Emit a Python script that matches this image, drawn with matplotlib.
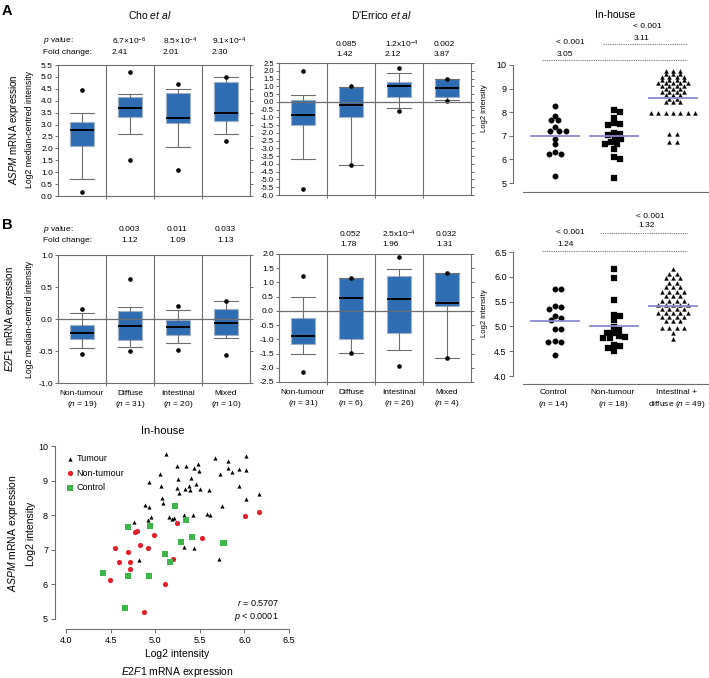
import numpy as np
import matplotlib
matplotlib.use('Agg')
import matplotlib.pyplot as plt

plt.rcParams['font.family'] = ['Liberation Sans', 'DejaVu Sans']
plt.rcParams['mathtext.fontset'] = 'custom'
plt.rcParams['mathtext.rm'] = 'Liberation Sans'
plt.rcParams['mathtext.it'] = 'Liberation Sans:italic'
plt.rcParams['mathtext.bf'] = 'Liberation Sans:bold'

# ---------------- data ----------------
categories = ['Non-tumour', 'Diffuse', 'Intestinal', 'Mixed']
cho_n = [19, 31, 20, 10]
derrico_n = [31, 6, 26, 4]

# Cho ASPM box stats
cho_aspm_lo = [0.70, 2.61, 2.05, 2.61]
cho_aspm_q1 = [2.09, 3.32, 3.07, 3.16]
cho_aspm_med = [2.76, 3.70, 3.28, 3.49]
cho_aspm_q3 = [3.10, 4.14, 4.32, 4.78]
cho_aspm_hi = [3.49, 4.29, 4.50, 5.01]
cho_aspm_min = [0.18, 1.53, 1.08, 2.33]
cho_aspm_max = [4.47, 5.20, 4.71, 5.01]

# D'Errico ASPM
der_aspm_lo = [-3.69, -4.06, -0.37, 0.13]
der_aspm_q1 = [-1.51, -0.95, 0.28, 0.28]
der_aspm_med = [-0.84, -0.18, 1.03, 0.86]
der_aspm_q3 = [0.13, 0.95, 1.29, 1.44]
der_aspm_hi = [0.45, 0.95, 1.83, 1.44]
der_aspm_min = [-5.61, -4.06, -0.59, 0.08]
der_aspm_max = [2.00, 1.00, 2.18, 1.44]

# Cho E2F1
cho_e2f1_lo = [-0.45, -0.43, -0.38, -0.29]
cho_e2f1_q1 = [-0.31, -0.33, -0.25, -0.25]
cho_e2f1_med = [-0.22, -0.11, -0.13, -0.06]
cho_e2f1_q3 = [-0.10, 0.13, -0.01, 0.16]
cho_e2f1_hi = [0.095, 0.19, 0.14, 0.28]
cho_e2f1_min = [-0.55, -0.50, -0.49, -0.56]
cho_e2f1_max = [0.16, 0.62, 0.21, 0.28]

# D'Errico E2F1
der_e2f1_lo = [-1.51, -1.48, -1.38, -1.66]
der_e2f1_q1 = [-1.18, -0.99, -0.78, 0.17]
der_e2f1_med = [-0.90, 0.46, 0.43, 0.28]
der_e2f1_q3 = [-0.24, 1.14, 1.24, 1.33]
der_e2f1_hi = [0.50, 1.14, 1.48, 1.33]
der_e2f1_min = [-2.14, -1.48, -1.95, -1.66]
der_e2f1_max = [1.21, 1.14, 1.89, 1.33]

cho_aspm_p = ['6.7×10$^{-6}$', '8.5×10$^{-4}$', '9.1×10$^{-4}$']
cho_aspm_fc = ['2.41', '2.01', '2.30']
der_aspm_p = ['0.085', '1.2x10$^{-4}$', '0.002']
der_aspm_fc = ['1.42', '2.12', '3.87']
cho_e2f1_p = ['0.003', '0.011', '0.033']
cho_e2f1_fc = ['1.12', '1.09', '1.13']
der_e2f1_p = ['0.052', '2.5x10$^{-4}$', '0.032']
der_e2f1_fc = ['1.78', '1.96', '1.31']

# In-house dot plots
inh_groups = ['Control', 'Non-tumour', 'Intestinal +']
inh_n = [14, 18, 49]
aspm_control = [8.25, 7.66, 7.66, 7.85, 7.20, 7.20, 7.20, 7.36, 6.88, 6.64, 6.22, 6.22, 6.31, 5.31]
aspm_nontumour = [8.09, 8.01, 7.75, 7.44, 7.53, 7.50, 7.13, 7.08, 7.05, 6.92, 6.85, 6.75,
                  6.65, 6.65, 6.43, 6.10, 6.02, 5.21]
aspm_tumour = [9.75, 9.75, 9.75, 9.62, 9.62, 9.62, 9.50, 9.50, 9.50, 9.50,
               9.38, 9.38, 9.38, 9.38, 9.25, 9.25, 9.25, 9.25, 9.25,
               9.12, 9.12, 9.12, 9.12, 8.98, 8.98, 8.98, 8.85, 8.85, 8.85, 8.85,
               8.72, 8.72, 8.72, 8.58, 8.58, 8.42, 8.42, 8.42,
               7.97, 7.97, 7.97, 7.97, 7.97, 7.97, 7.97,
               7.08, 7.08, 6.75, 6.75]
aspm_means = [7.00, 6.98, 8.61]

e2f1_control = [5.75, 5.75, 5.42, 5.36, 5.40, 5.21, 5.16, 5.12, 4.94, 4.94, 4.69, 4.69, 4.70, 4.42]
e2f1_nontumour = [6.16, 5.98, 5.53, 5.24, 5.22, 5.12, 4.99, 4.92, 4.86, 4.86, 4.80, 4.78,
                  4.77, 4.76, 4.62, 4.60, 4.56, 4.50]
e2f1_tumour = [6.15, 6.06, 6.06, 5.98, 5.98, 5.98, 5.88, 5.88, 5.79, 5.79, 5.79,
               5.70, 5.70, 5.70, 5.70, 5.61, 5.61, 5.61, 5.52, 5.52, 5.52, 5.52,
               5.44, 5.44, 5.44, 5.44, 5.44, 5.36, 5.36, 5.36, 5.36,
               5.28, 5.28, 5.28, 5.28, 5.28, 5.19, 5.19, 5.19, 5.19,
               5.10, 5.10, 5.10, 4.96, 4.96, 4.96, 4.96, 4.86, 4.75]
e2f1_means = [5.10, 5.01, 5.42]

# Scatter (E2F1 x, ASPM y)
tum_x = [5.12, 5.67, 6.02, 5.82, 5.24, 5.34, 5.44, 5.48, 5.49, 5.82, 5.86, 5.94, 6.02, 5.73,
         5.05, 4.93, 5.26, 5.40, 5.06, 5.24, 5.27, 5.33, 5.38, 5.46, 5.39, 5.50, 5.60, 5.94,
         6.16, 6.02, 5.08, 5.09, 4.89, 4.93, 5.75, 5.15, 5.19, 4.95, 4.92, 4.76, 5.32, 5.42,
         5.58, 5.62, 5.32, 5.43, 4.82, 5.71, 5.21]
tum_y = [9.77, 9.66, 9.71, 9.57, 9.42, 9.42, 9.37, 9.49, 9.29, 9.37, 9.24, 9.33, 9.31, 9.19,
         9.19, 8.96, 9.04, 9.08, 8.84, 8.79, 8.63, 8.76, 8.84, 8.90, 8.73, 8.75, 8.73, 8.84,
         8.62, 8.46, 8.51, 8.36, 8.29, 8.24, 8.27, 7.95, 7.88, 7.95, 7.86, 7.79, 8.01, 8.01,
         8.03, 8.01, 7.08, 7.04, 6.70, 6.73, 7.92]
non_x = [6.16, 6.01, 5.24, 4.80, 4.77, 4.99, 5.53, 4.55, 4.70, 4.92, 4.83, 4.60, 4.72, 4.72,
         5.20, 4.49, 5.11, 4.87]
non_y = [8.09, 7.99, 7.76, 7.55, 7.50, 7.44, 7.33, 7.04, 6.94, 7.04, 7.15, 6.64, 6.64, 6.44,
         6.74, 6.12, 6.02, 5.20]
ctl_x = [5.22, 5.35, 4.69, 4.94, 5.41, 5.29, 5.76, 5.11, 5.17, 4.41, 4.70, 4.93, 4.66, 5.77]
ctl_y = [8.27, 7.85, 7.66, 7.68, 7.37, 7.22, 7.20, 6.89, 6.66, 6.32, 6.24, 6.24, 5.33, 7.21]

# ---------------- styles ----------------
BLUE = '#2f6db3'
GRAY = '#6e6e6e'
W, H = 709, 678
fig = plt.figure(figsize=(W / 100, H / 100), dpi=100)


def add_ax(l, t, r, b):
    return fig.add_axes([l / W, 1 - b / H, (r - l) / W, (b - t) / H])


def ftext(x, y, s, **kw):
    kw.setdefault('va', 'center')
    kw.setdefault('ha', 'center')
    fig.text(x / W, 1 - y / H, s, **kw)


def box_panel(ax, lo, q1, med, q3, hi, mn, mx, ylim, yticks, zero_line, labels=None,
              ns=None, tfs=6):
    stats = []
    for i in range(4):
        stats.append(dict(whislo=lo[i], q1=q1[i], med=med[i], q3=q3[i], whishi=hi[i],
                          fliers=[mn[i], mx[i]]))
    ax.bxp(stats, positions=np.arange(4) + 0.5, widths=0.52, patch_artist=True,
           showfliers=True, capwidths=0.52,
           boxprops=dict(facecolor=BLUE, edgecolor='#9fb0c4', lw=0.8),
           medianprops=dict(color='black', lw=1.4),
           whiskerprops=dict(color=GRAY, lw=0.8),
           capprops=dict(color=GRAY, lw=0.8),
           flierprops=dict(marker='o', ms=2.3, mfc='black', mec='black', lw=0))
    ax.set_xlim(0, 4)
    ax.set_ylim(*ylim)
    for x in [1, 2, 3]:
        ax.axvline(x, color=GRAY, lw=0.8, zorder=0.5)
    if zero_line:
        ax.axhline(0, color=GRAY, lw=0.9, zorder=3)
    for s in ax.spines.values():
        s.set_color(GRAY)
        s.set_linewidth(0.8)
    ax.set_yticks(yticks)
    ax.set_yticklabels(['%.1f' % v for v in yticks], fontsize=tfs)
    ax.tick_params(axis='y', direction='out', length=2.5, width=0.7, color=GRAY, pad=1.2,
                   right=True)
    ax.set_xticks([1, 2, 3])
    ax.set_xticklabels([])
    ax.tick_params(axis='x', which='major', direction='out', length=2.5, width=0.7, color=GRAY)
    ax.set_xticks(np.arange(4) + 0.5, minor=True)
    if labels is not None:
        ax.set_xticklabels([f'{c}\n($\\mathit{{n}}$ = {n})' for c, n in zip(labels, ns)],
                           minor=True, fontsize=6, linespacing=1.35)
        ax.tick_params(axis='x', which='minor', length=0, pad=5)
    else:
        ax.tick_params(axis='x', which='minor', length=0)
        ax.set_xticklabels([], minor=True)


def swarm(vals, ypx, xpx, sx, sy):
    """Beeswarm offsets; sx, sy = minimal horizontal / vertical separation in pixels."""
    vals = np.asarray(vals, float)
    order = np.argsort(-vals)
    placed = []
    offs = np.zeros(len(vals))
    cands = np.arange(-80, 80.01, 0.5)
    cands = cands[np.argsort(np.abs(cands) + 1e-6 * (cands < 0))]
    for i in order:
        y = vals[i] * ypx
        for c in cands:
            ok = True
            for (px, py) in placed:
                if ((c - px) / sx) ** 2 + ((y - py) / sy) ** 2 < 1:
                    ok = False
                    break
            if ok:
                placed.append((c, y))
                offs[i] = c / xpx
                break
    return offs


def rows(vals, xpx, sx):
    """Symmetric row layout: equal values spread evenly around the group centre."""
    vals = np.asarray(vals, float)
    offs = np.zeros(len(vals))
    for v in np.unique(vals):
        idx = np.where(vals == v)[0]
        n = len(idx)
        offs[idx] = (np.arange(n) - (n - 1) / 2) * sx / xpx
    return offs


def dot_panel(ax, groups_vals, means, ypx, ylim, spine_lo, spine_hi, yticks, fmt, seps):
    xpx = 59.0
    markers = [('o', 4.0), ('s', 3.7), ('^', 2.9)]
    for gi, vals in enumerate(groups_vals):
        if gi < 2:
            offs = swarm(vals, ypx, xpx, *seps[gi])
        else:
            offs = rows(vals, xpx, seps[gi][0])
        ax.plot(gi + 1 + offs, vals, ls='none', marker=markers[gi][0], ms=markers[gi][1],
                mfc='black', mec='black', mew=0.2)
        ax.hlines(means[gi], gi + 1 - 0.42, gi + 1 + 0.42, color='#8a8ad0', lw=1.3, zorder=3)
    ax.set_xlim(0.29, 3.61)
    ax.set_ylim(*ylim)
    ax.spines['top'].set_visible(False)
    ax.spines['right'].set_visible(False)
    ax.spines['left'].set_bounds(spine_lo, spine_hi)
    ax.spines['bottom'].set_bounds(0.46, 3.61)
    for s in ax.spines.values():
        s.set_color(GRAY)
        s.set_linewidth(0.8)
    ax.set_xticks([])
    ax.set_yticks(yticks)
    ax.set_yticklabels([fmt % v for v in yticks], fontsize=6.5)
    ax.tick_params(axis='y', direction='out', length=3, width=0.7, color=GRAY, pad=1.5)


# ---------------- Panel A ----------------
ax1 = add_ax(58, 65, 250, 196)
box_panel(ax1, cho_aspm_lo, cho_aspm_q1, cho_aspm_med, cho_aspm_q3, cho_aspm_hi,
          cho_aspm_min, cho_aspm_max, (0, 5.5), np.arange(0, 5.51, 0.5), False)
ax2 = add_ax(279, 63, 471, 195)
box_panel(ax2, der_aspm_lo, der_aspm_q1, der_aspm_med, der_aspm_q3, der_aspm_hi,
          der_aspm_min, der_aspm_max, (-6.0, 2.5), np.arange(-6.0, 2.51, 0.5), True, tfs=5.5)

ax3 = add_ax(513, 65, 709, 192)
dot_panel(ax3, [aspm_control, aspm_nontumour, aspm_tumour], aspm_means, 23.6,
          (4.62, 10.0), 5, 10, [5, 6, 7, 8, 9, 10], '%d',
          [(6.3, 5.0), (6.3, 5.0), (7.4, 3.3)])
ax3.plot([0.78, 3.24], [10.21, 10.21], ls=(0, (1.2, 0.8)), color='#888', lw=0.8, clip_on=False)
ax3.plot([1.81, 3.24], [10.89, 10.89], ls=(0, (1.2, 0.8)), color='#888', lw=0.8, clip_on=False)

# Panel B
ax4 = add_ax(58, 255, 250, 383)
box_panel(ax4, cho_e2f1_lo, cho_e2f1_q1, cho_e2f1_med, cho_e2f1_q3, cho_e2f1_hi,
          cho_e2f1_min, cho_e2f1_max, (-1.0, 1.0), np.arange(-1.0, 1.01, 0.5), True,
          labels=categories, ns=cho_n)
ax5 = add_ax(279, 254, 471, 382)
box_panel(ax5, der_e2f1_lo, der_e2f1_q1, der_e2f1_med, der_e2f1_q3, der_e2f1_hi,
          der_e2f1_min, der_e2f1_max, (-2.5, 2.0), np.arange(-2.5, 2.01, 0.5), True,
          labels=categories, ns=derrico_n)

ax6 = add_ax(513, 252, 709, 384)
dot_panel(ax6, [e2f1_control, e2f1_nontumour, e2f1_tumour], e2f1_means, 49.6,
          (3.84, 6.5), 4.0, 6.5, [4.0, 4.5, 5.0, 5.5, 6.0, 6.5], '%.1f',
          [(6.3, 5.5), (6.3, 5.5), (7.4, 2.9)])
ax6.plot([0.78, 3.24], [6.52, 6.52], ls=(0, (1.2, 0.8)), color='#888', lw=0.8, clip_on=False)
ax6.plot([1.77, 3.24], [6.88, 6.88], ls=(0, (1.2, 0.8)), color='#888', lw=0.8, clip_on=False)

# ---------------- Scatter ----------------
ax7 = add_ax(55, 446, 289, 629)
ax7.scatter(tum_x, tum_y, marker='^', s=9, c='black', lw=0, label='Tumour', zorder=3)
ax7.scatter(non_x, non_y, marker='o', s=14, c='#e3202b', lw=0, label='Non-tumour', zorder=3)
ax7.scatter(ctl_x, ctl_y, marker='s', s=14, c='#3db54a', lw=0, label='Control', zorder=3)
ax7.set_xlim(3.877, 6.5)
ax7.set_ylim(4.71, 10.0)
ax7.spines['top'].set_visible(False)
ax7.spines['right'].set_visible(False)
ax7.spines['left'].set_bounds(5, 10)
ax7.spines['bottom'].set_bounds(4.0, 6.5)
for s in ax7.spines.values():
    s.set_color(GRAY)
    s.set_linewidth(0.8)
ax7.set_xticks(np.arange(4.0, 6.51, 0.5))
ax7.set_xticklabels(['%.1f' % v for v in np.arange(4.0, 6.51, 0.5)], fontsize=6.5)
ax7.set_yticks([5, 6, 7, 8, 9, 10])
ax7.set_yticklabels(['5', '6', '7', '8', '9', '10'], fontsize=6.5)
ax7.tick_params(direction='out', length=3, width=0.7, color=GRAY, pad=2)
ax7.legend(loc='upper left', bbox_to_anchor=(0.03, 0.975), frameon=False, fontsize=6.5,
           handletextpad=0.2, labelspacing=0.6, borderaxespad=0, handlelength=1.0,
           scatterpoints=1)
ftext(279, 603, '$\\mathit{r}$ = 0.5707', ha='right', fontsize=6.5)
ftext(279, 617, '$\\mathit{p}$ < 0.0001', ha='right', fontsize=6.5)

# ---------------- Texts ----------------
ftext(7, 11, 'A', fontsize=10.5, fontweight='bold')
ftext(7, 225, 'B', fontsize=10.5, fontweight='bold')
ftext(150, 15, 'Cho $\\mathit{et\\ al}$', fontsize=7.5)
ftext(382, 15, "D'Errico $\\mathit{et\\ al}$", fontsize=7.5)
ftext(615, 15, 'In-house', fontsize=7.5)
ftext(163, 431, 'In-house', fontsize=8)

hfs = 6
ftext(43, 41, '$\\mathit{p}$ value:', ha='left', fontsize=hfs)
ftext(43, 52, 'Fold change:', ha='left', fontsize=hfs)
for x, p, f in zip([112, 163, 212], cho_aspm_p, cho_aspm_fc):
    ftext(x, 41, p, ha='left', fontsize=hfs)
    ftext(x, 52, f, ha='left', fontsize=hfs)
for x, p, f in zip([336, 385, 434], der_aspm_p, der_aspm_fc):
    ftext(x, 44, p, ha='left', fontsize=hfs)
    ftext(x, 54, f, ha='left', fontsize=hfs)

ftext(43, 229, '$\\mathit{p}$ value:', ha='left', fontsize=hfs)
ftext(43, 240, 'Fold change:', ha='left', fontsize=hfs)
for x, p, f in zip([119, 167, 215], cho_e2f1_p, cho_e2f1_fc):
    ftext(x, 229, p, ha='left', fontsize=hfs)
    ftext(x + 2, 240, f, ha='left', fontsize=hfs)
for x, p, f in zip([340, 382, 436], der_e2f1_p, der_e2f1_fc):
    ftext(x, 234, p, ha='left', fontsize=hfs)
    ftext(x, 244, f, ha='left', fontsize=hfs)

# in-house significance texts
ftext(556, 43, '< 0.001', ha='left', fontsize=hfs)
ftext(557, 54, '3.05', ha='left', fontsize=hfs)
ftext(633, 26, '< 0.001', ha='left', fontsize=hfs)
ftext(634, 38, '3.11', ha='left', fontsize=hfs)
ftext(556, 233, '< 0.001', ha='left', fontsize=hfs)
ftext(557, 244, '1.24', ha='left', fontsize=hfs)
ftext(636, 216, '< 0.001', ha='left', fontsize=hfs)
ftext(638, 226, '1.32', ha='left', fontsize=hfs)

# in-house B group labels
ftext(553, 393, 'Control', fontsize=6)
ftext(553, 404, '($\\mathit{n}$ = 14)', fontsize=6)
ftext(613, 393, 'Non-tumour', fontsize=6)
ftext(613, 404, '($\\mathit{n}$ = 18)', fontsize=6)
ftext(677, 393, 'Intestinal +', fontsize=6)
ftext(677, 404, 'diffuse ($\\mathit{n}$ = 49)', fontsize=6)

# y labels
ftext(14, 130, '$\\mathit{ASPM}$ mRNA expression', rotation=90, fontsize=7)
ftext(30, 130, 'Log2 median-centred intensity', rotation=90, fontsize=6.2)
ftext(10, 319, '$\\mathit{E2F1}$ mRNA expression', rotation=90, fontsize=7)
ftext(30, 319, 'Log2 median-centred intensity', rotation=90, fontsize=6.2)
ftext(484, 108, 'Log2 intensity', rotation=90, fontsize=5.5)
ftext(484, 313, 'Log2 intensity', rotation=90, fontsize=5.5)
ftext(13, 533, '$\\mathit{ASPM}$ mRNA expression', rotation=90, fontsize=7.5)
ftext(31, 534, 'Log2 intensity', rotation=90, fontsize=7.5)
ftext(177, 654, 'Log2 intensity', fontsize=7.5)
ftext(177, 672, '$\\mathit{E2F1}$ mRNA expression', fontsize=7.5)

fig.savefig('out.png', dpi=100)
